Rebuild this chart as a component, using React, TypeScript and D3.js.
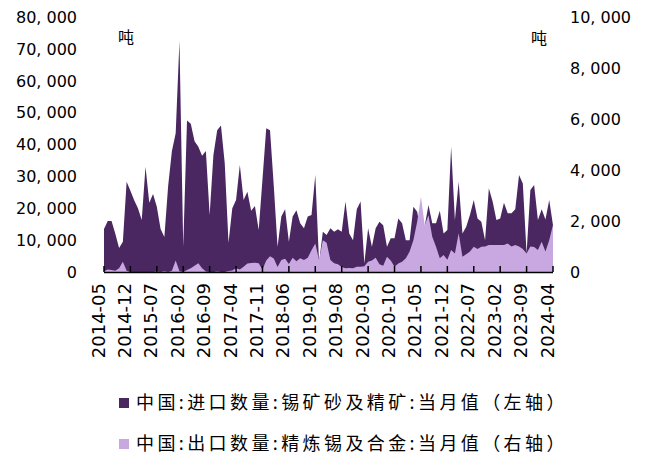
import React from "react";
import * as d3 from "d3";

const startMonth = "2014-05";
const tickLabels = ["2014-05","2014-12","2015-07","2016-02","2016-09","2017-04","2017-11","2018-06","2019-01","2019-08","2020-03","2020-10","2021-05","2021-12","2022-07","2023-02","2023-09","2024-04"];

// 中国:进口数量:锡矿砂及精矿:当月值 (吨, left axis)
const importOre = [
  13500,16000,16000,12000,7500,9500,28300,25500,22500,20000,
  16300,33000,21700,24500,20500,13500,11000,27000,38000,43500,
  72500,8000,47500,46500,41000,39300,36500,38000,17900,36700,
  44500,46000,34100,9200,20000,22600,33600,22600,25200,19200,
  20700,13200,29000,45100,44500,27000,7900,17400,19700,9500,
  17400,19400,15300,13700,17400,17900,30400,3000,12600,11600,
  13700,12600,13400,12600,22100,12100,10000,19700,22100,2700,
  13700,7900,13700,15800,14700,7900,10600,10600,16800,15300,
  10000,10000,20500,18900,12000,14400,21000,15300,15300,19200,
  12100,13200,39300,16300,28300,12100,14200,18000,22600,16800,
  15800,10000,26300,22100,16300,16800,21700,18400,18400,19700,
  30400,27800,5900,25700,27300,16300,19700,16500,22600,14700
];

// 中国:出口数量:精炼锡及合金:当月值 (吨, right axis)
const exportTin = [
  30,100,80,50,150,400,50,0,0,0,
  0,0,0,0,20,0,30,0,50,450,
  30,0,80,150,250,340,150,20,0,0,
  20,0,0,40,60,150,100,210,330,350,
  360,340,100,450,620,530,200,470,520,310,
  560,420,540,470,560,850,1120,470,1250,1150,
  470,340,300,200,145,160,145,210,210,230,
  400,450,560,300,250,600,450,210,330,400,
  535,800,1250,1970,2950,1840,2230,1380,990,535,
  665,480,860,730,1520,600,700,800,990,900,
  990,1000,1060,1060,1060,1060,1060,1120,1000,1060,
  1000,900,730,1000,980,860,1190,800,1250,1850
];

const leftTicks = [0,10000,20000,30000,40000,50000,60000,70000,80000];
const rightTicks = [0,2000,4000,6000,8000,10000];

const legendItems = [
  { label: "中国:进口数量:锡矿砂及精矿:当月值（左轴）", color: "#4b2762" },
  { label: "中国:出口数量:精炼锡及合金:当月值（右轴）", color: "#c9a8e2" },
];

const W = 648, H = 457;
const plot = { left: 104, right: 553, top: 17, bottom: 272 };

function monthLabel(i: number) {
  const [y, m] = startMonth.split("-").map(Number);
  const total = y * 12 + (m - 1) + i;
  const yy = Math.floor(total / 12);
  const mm = (total % 12) + 1;
  return `${yy}-${String(mm).padStart(2, "0")}`;
}

const months = importOre.map((_, i) => monthLabel(i));

function splitNum(v: number) {
  const s = d3.format(",")(v);
  const idx = s.indexOf(",");
  if (idx < 0) return [s, ""];
  return [s.slice(0, idx + 1), s.slice(idx + 1)];
}

export default function App() {
  const x = d3.scalePoint<string>().domain(months).range([plot.left, plot.right]);
  const yL = d3.scaleLinear().domain([0, 80000]).range([plot.bottom, plot.top]);
  const yR = d3.scaleLinear().domain([0, 10000]).range([plot.bottom, plot.top]);

  const areaL = d3.area<number>()
    .x((_, i) => x(months[i])!)
    .y0(plot.bottom)
    .y1((d) => yL(d));
  const areaR = d3.area<number>()
    .x((_, i) => x(months[i])!)
    .y0(plot.bottom)
    .y1((d) => yR(d));

  const numFont = "'DejaVu Sans', sans-serif";
  const cjkFont = "'Noto Sans CJK SC', sans-serif";

  return (
    <svg width={W} height={H} style={{ position: "absolute", left: 0, top: 0, background: "#fff" }}>
      <path d={areaL(importOre) || ""} fill="#4b2762" />
      <path d={areaR(exportTin) || ""} fill="#c9a8e2" />

      {/* bottom axis */}
      <line x1={plot.left} x2={plot.right} y1={plot.bottom + 0.5} y2={plot.bottom + 0.5} stroke="#000" strokeWidth={1.5} />
      {tickLabels.map((t) => (
        <g key={t}>
          <line x1={x(t)!} x2={x(t)!} y1={plot.bottom} y2={plot.bottom - 6} stroke="#000" strokeWidth={1.5} />
          <text
            transform={`translate(${x(t)! + 0.5},283) rotate(-90)`}
            textAnchor="end"
            fontFamily={numFont}
            fontSize={18}
            fill="#000"
          >{t}</text>
        </g>
      ))}

      {/* left axis labels */}
      {leftTicks.map((v) => {
        const [a, b] = splitNum(v);
        return (
          <text key={v} x={77} y={yL(v)} dy="0.36em" textAnchor="end" fontFamily={numFont} fontSize={16} fill="#000">
            {a}{b && <tspan dx={5}>{b}</tspan>}
          </text>
        );
      })}
      {/* right axis labels */}
      {rightTicks.map((v) => {
        const [a, b] = splitNum(v);
        return (
          <text key={v} x={570} y={yR(v)} dy="0.36em" textAnchor="start" fontFamily={numFont} fontSize={16} fill="#000">
            {a}{b && <tspan dx={5}>{b}</tspan>}
          </text>
        );
      })}

      <text x={118} y={43} fontFamily={cjkFont} fontSize={16} fill="#000">吨</text>
      <text x={531} y={44} fontFamily={cjkFont} fontSize={16} fill="#000">吨</text>

      {/* legend */}
      {legendItems.map((it, i) => (
        <g key={it.label} transform={`translate(119,${398 + i * 41})`}>
          <rect x={0} y={0} width={10} height={10} fill={it.color} />
          <text x={17} y={5} dy="0.36em" fontFamily={cjkFont} fontSize={18} letterSpacing={3.4} fill="#000">{it.label}</text>
        </g>
      ))}
    </svg>
  );
}
